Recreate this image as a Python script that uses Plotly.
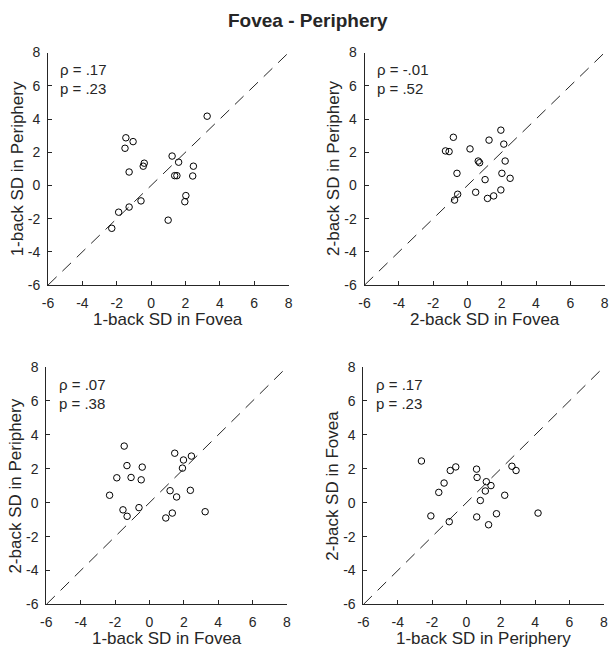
import plotly.graph_objects as go

# ---------------- data ----------------
fov1_x = [3.26, -1.47, -1.05, -1.52, -0.40, -0.46, -1.28, 1.22, 1.60, 2.46,
          1.37, 1.50, 2.42, 2.02, 1.96, 0.99, -0.59, -1.28, -1.89, -2.29]
per1_y = [4.17, 2.87, 2.64, 2.24, 1.34, 1.16, 0.81, 1.77, 1.40, 1.16,
          0.59, 0.59, 0.57, -0.61, -0.98, -2.09, -0.93, -1.30, -1.61, -2.58]

fov2_x = [1.95, -0.82, 1.26, 2.12, -1.28, -1.07, 0.15, 0.63, 0.71, 2.20,
          -0.61, 2.01, 1.03, 2.49, 1.95, 0.48, -0.57, -0.75, 1.17, 1.53]
per2_y = [3.33, 2.90, 2.73, 2.49, 2.08, 2.04, 2.20, 1.47, 1.37, 1.47,
          0.73, 0.73, 0.35, 0.43, -0.27, -0.41, -0.53, -0.88, -0.78, -0.63]

b1fov_x = [-1.47, 1.47, 2.44, 1.98, -1.31, -0.42, 1.92, -1.90, -1.07, -0.48,
           -2.32, 1.20, 2.38, 1.58, -1.54, -1.30, -0.61, 1.33, 0.95, 3.24]
b2per_y = [3.34, 2.92, 2.75, 2.52, 2.19, 2.10, 2.04, 1.47, 1.49, 1.35,
           0.44, 0.71, 0.73, 0.34, -0.42, -0.80, -0.29, -0.61, -0.90, -0.53]

b1per_x = [-2.62, -0.94, -0.62, 0.59, 0.62, 2.65, 2.89, -1.30, 1.16, 1.43,
           -1.61, 1.10, 2.23, 0.81, -2.07, -1.00, 0.60, 1.75, 1.29, 4.17]
b2fov_y = [2.46, 1.90, 2.11, 1.98, 1.49, 2.15, 1.90, 1.16, 1.24, 1.01,
           0.61, 0.69, 0.44, 0.13, -0.78, -1.12, -0.84, -0.65, -1.30, -0.61]

axis_limits = [-6, 8]
tick_vals = [-6, -4, -2, 0, 2, 4, 6, 8]
tick_text = ["-6", "-4", "-2", "0", "2", "4", "6", "8"]

panels = [
    dict(x=fov1_x, y=per1_y, xlabel="1-back SD in Fovea", ylabel="1-back SD in Periphery",
         rho="ρ = .17", p="p = .23"),
    dict(x=fov2_x, y=per2_y, xlabel="2-back SD in Fovea", ylabel="2-back SD in Periphery",
         rho="ρ = -.01", p="p = .52"),
    dict(x=b1fov_x, y=b2per_y, xlabel="1-back SD in Fovea", ylabel="2-back SD in Periphery",
         rho="ρ = .07", p="p = .38"),
    dict(x=b1per_x, y=b2fov_y, xlabel="1-back SD in Periphery", ylabel="2-back SD in Fovea",
         rho="ρ = .17", p="p = .23"),
]

# ---------------- layout (pixel boxes) ----------------
W, H = 614, 659
boxes = [  # left, right, top, bottom in pixels
    (42.7, 287.3, 45.7, 284.0),
    (364.5, 608.5, 45.7, 284.0),
    (41.0, 285.6, 368.0, 611.3),
    (363.3, 607.7, 368.0, 611.3),
]

FONT = "Liberation Sans, Arial, Helvetica, sans-serif"
DARK = "#262626"

fig = go.Figure()
layout = dict(
    width=W, height=H,
    margin=dict(l=0, r=0, t=0, b=0),
    paper_bgcolor="white", plot_bgcolor="white",
    showlegend=False,
    font=dict(family=FONT, color=DARK, size=14),
    annotations=[],
)

for i, (pnl, box) in enumerate(zip(panels, boxes)):
    n = "" if i == 0 else str(i + 1)
    xa, ya = "x" + n, "y" + n
    l, r, t, b = box
    axcommon = dict(
        range=axis_limits, tickvals=tick_vals, ticktext=tick_text,
        showline=True, linecolor=DARK, linewidth=1,
        ticks="inside", ticklen=4, tickcolor=DARK, tickwidth=1,
        showgrid=False, zeroline=False, mirror=False,
        tickfont=dict(family=FONT, size=14, color=DARK),
        ticklabeloverflow="allow",
        fixedrange=True,
    )
    layout["xaxis" + n] = dict(axcommon, domain=[l / W, r / W], anchor=ya,
                               ticklabelstandoff=5)
    layout["yaxis" + n] = dict(axcommon, domain=[1 - b / H, 1 - t / H], anchor=xa,
                               ticklabelstandoff=4)

    # identity line
    fig.add_trace(go.Scatter(
        x=axis_limits, y=axis_limits, mode="lines", xaxis=xa, yaxis=ya,
        line=dict(color=DARK, width=1, dash="12px,8px"), hoverinfo="skip"))
    # points
    fig.add_trace(go.Scatter(
        x=pnl["x"], y=pnl["y"], mode="markers", xaxis=xa, yaxis=ya,
        marker=dict(symbol="circle-open", size=6.5, color="black",
                    line=dict(color="black", width=1))))

    # axis titles
    layout["annotations"].append(dict(
        text=pnl["xlabel"], xref="paper", yref="paper",
        x=(l + r) / 2 / W, y=1 - (b + 35) / H, xanchor="center", yanchor="middle",
        showarrow=False, font=dict(family=FONT, size=17, color=DARK)))
    layout["annotations"].append(dict(
        text=pnl["ylabel"], xref="paper", yref="paper",
        x=(l - 31) / W, y=1 - (t + b) / 2 / H, xanchor="center", yanchor="middle",
        textangle=-90, showarrow=False, font=dict(family=FONT, size=17, color=DARK)))
    # stats text
    layout["annotations"].append(dict(
        text=pnl["rho"], xref=xa, yref=ya, x=-5.4, y=7.0,
        xanchor="left", yanchor="middle", showarrow=False,
        font=dict(family=FONT, size=15, color=DARK)))
    layout["annotations"].append(dict(
        text=pnl["p"], xref=xa, yref=ya, x=-5.4, y=5.85,
        xanchor="left", yanchor="middle", showarrow=False,
        font=dict(family=FONT, size=15, color=DARK)))

layout["annotations"].append(dict(
    text="<b>Fovea - Periphery</b>", xref="paper", yref="paper",
    x=307 / W, y=1 - 13 / H, xanchor="center", yanchor="middle",
    showarrow=False, font=dict(family=FONT, size=19, color=DARK)))

fig.update_layout(**layout)
fig.write_html(
    "out.html",
    config={"displayModeBar": False, "staticPlot": True},
    post_script="document.body.style.margin='0';document.body.style.overflow='hidden';",
)
